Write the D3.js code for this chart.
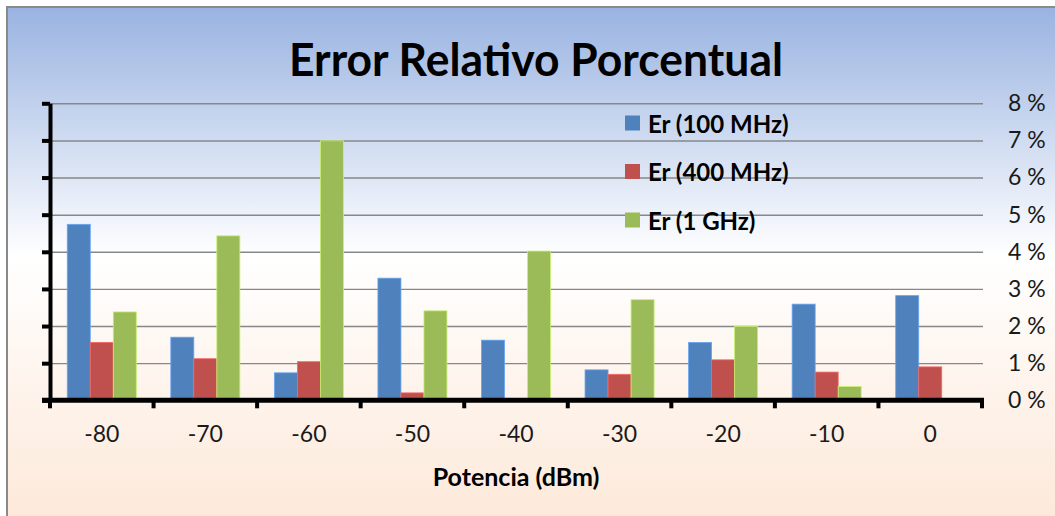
<!DOCTYPE html>
<html>
<head>
<meta charset="utf-8">
<script src="https://cdn.jsdelivr.net/npm/d3@7"></script>
<style>
  html, body { margin: 0; padding: 0; background: #ffffff; }
  svg { display: block; }
  text { font-family: Lato, "Open Sans", "DejaVu Sans", sans-serif; }
</style>
</head>
<body>
<svg id="chart" width="1055" height="516"></svg>
<script>
// Power levels (dBm) along the horizontal axis
const categories = ["-80", "-70", "-60", "-50", "-40", "-30", "-20", "-10", "0"];

// Relative error (%) per frequency
const series = ["Er (100 MHz)", "Er (400 MHz)", "Er (1 GHz)"];
const er100MHz = [4.74, 1.70, 0.74, 3.29, 1.62, 0.82, 1.56, 2.59, 2.82];
const er400MHz = [1.56, 1.12, 1.04, 0.20, 0.00, 0.70, 1.09, 0.76, 0.90];
const er1GHz   = [2.38, 4.43, 6.99, 2.41, 4.02, 2.71, 1.99, 0.37, 0.03];

const yTickValues = [0, 1, 2, 3, 4, 5, 6, 7, 8];
const colors = ["#4f81bd", "#c0504d", "#9bbb59"];

const title = "Error Relativo Porcentual";
const xTitle = "Potencia (dBm)";

const valuesBySeries = [er100MHz, er400MHz, er1GHz];

const svg = d3.select("#chart");

// Background panel with vertical gradient
const defs = svg.append("defs");
const grad = defs.append("linearGradient")
  .attr("id", "bg").attr("x1", 0).attr("y1", 0).attr("x2", 0).attr("y2", 1);
grad.append("stop").attr("offset", "0%").attr("stop-color", "#99b3e1");
grad.append("stop").attr("offset", "48%").attr("stop-color", "#ffffff");
grad.append("stop").attr("offset", "100%").attr("stop-color", "#fde8d8");

svg.append("rect")
  .attr("x", 7).attr("y", 7).attr("width", 1060).attr("height", 520)
  .attr("fill", "url(#bg)")
  .attr("stroke", "#8a8a8a").attr("stroke-width", 2);

// Plot geometry
const plotLeft = 50, plotRight = 982, plotTop = 103.3, plotBottom = 400.3;

const x0 = d3.scaleBand().domain(categories).range([plotLeft, plotRight]).padding(0);
const x1 = d3.scaleBand().domain(series).range([0, x0.bandwidth()])
  .paddingInner(0).paddingOuter(0.75);
const y = d3.scaleLinear().domain([0, 8]).range([plotBottom, plotTop]);

// Horizontal gridlines
svg.append("g")
  .attr("transform", `translate(${plotLeft},0)`)
  .call(d3.axisLeft(y).tickValues(yTickValues).tickSize(-(plotRight - plotLeft + 1)).tickFormat(""))
  .call(g => g.select(".domain").remove())
  .call(g => g.selectAll(".tick line").attr("stroke", "#878787").attr("stroke-width", 1.4));

// Bars
const groups = svg.append("g").selectAll("g")
  .data(categories)
  .join("g")
  .attr("transform", d => `translate(${x0(d)},0)`);

groups.selectAll("rect")
  .data((d, i) => series.map((s, k) => ({ s, k, v: valuesBySeries[k][i] })))
  .join("rect")
  .attr("x", d => x1(d.s))
  .attr("width", x1.bandwidth())
  .attr("y", d => y(d.v))
  .attr("height", d => y(0) - y(d.v))
  .attr("fill", d => colors[d.k])
  .attr("stroke", d => d3.color(colors[d.k]).brighter(0.7))
  .attr("stroke-width", 0.8);

// Left axis: thick line with ticks, no labels
svg.append("g")
  .attr("transform", `translate(${plotLeft},0)`)
  .call(d3.axisLeft(y).tickValues(yTickValues).tickSize(8).tickSizeOuter(0).tickFormat(""))
  .call(g => g.select(".domain").attr("stroke", "#000").attr("stroke-width", 4))
  .call(g => g.selectAll(".tick line").attr("stroke", "#000").attr("stroke-width", 4));

// Right-side percentage labels
svg.append("g")
  .attr("transform", `translate(${plotRight},0)`)
  .call(d3.axisRight(y).tickValues(yTickValues).tickSize(0).tickPadding(26)
    .tickFormat(d => d + " %"))
  .call(g => g.select(".domain").remove())
  .call(g => g.selectAll("text")
    .attr("font-size", 23).attr("fill", "#1a1a1a")
    .attr("font-family", "Lato, 'Open Sans', sans-serif"));

// Bottom axis: boundaries between categories carry the tick marks
const boundaries = categories.map(c => x0(c)).concat([plotRight]);
const xAxis = svg.append("g");
xAxis.append("line")
  .attr("x1", plotLeft - 8).attr("x2", plotRight + 2)
  .attr("y1", plotBottom).attr("y2", plotBottom)
  .attr("stroke", "#000").attr("stroke-width", 5);
xAxis.selectAll("line.tick")
  .data(boundaries)
  .join("line")
  .attr("class", "tick")
  .attr("x1", d => d).attr("x2", d => d)
  .attr("y1", plotBottom).attr("y2", plotBottom + 8)
  .attr("stroke", "#000").attr("stroke-width", 4);

// Category labels
svg.append("g")
  .attr("transform", `translate(0,${plotBottom})`)
  .call(d3.axisBottom(x0).tickSize(0).tickPadding(25))
  .call(g => g.select(".domain").remove())
  .call(g => g.selectAll("text")
    .attr("font-size", 23).attr("fill", "#1a1a1a")
    .attr("font-family", "Lato, 'Open Sans', sans-serif"));

// Axis title
svg.append("text")
  .attr("x", 516).attr("y", 476)
  .attr("text-anchor", "middle").attr("dominant-baseline", "central")
  .attr("font-size", 25).attr("font-weight", "bold").attr("fill", "#000")
  .text(xTitle);

// Chart title
svg.append("text")
  .attr("x", 536).attr("y", 58)
  .attr("text-anchor", "middle").attr("dominant-baseline", "central")
  .attr("font-size", 46).attr("font-weight", "bold").attr("fill", "#000")
  .attr("textLength", 494).attr("lengthAdjust", "spacingAndGlyphs")
  .text(title);

// Legend
const legend = svg.append("g");
const legendRows = legend.selectAll("g")
  .data(series)
  .join("g")
  .attr("transform", (d, i) => `translate(625,${123 + i * 48.5})`);
legendRows.append("rect")
  .attr("x", 0).attr("y", -7.5).attr("width", 15).attr("height", 15)
  .attr("fill", (d, i) => colors[i]);
legendRows.append("text")
  .attr("x", 23).attr("y", 0)
  .attr("dominant-baseline", "central")
  .attr("font-size", 24).attr("font-weight", "bold").attr("fill", "#000")
  .text(d => d);
</script>
</body>
</html>
